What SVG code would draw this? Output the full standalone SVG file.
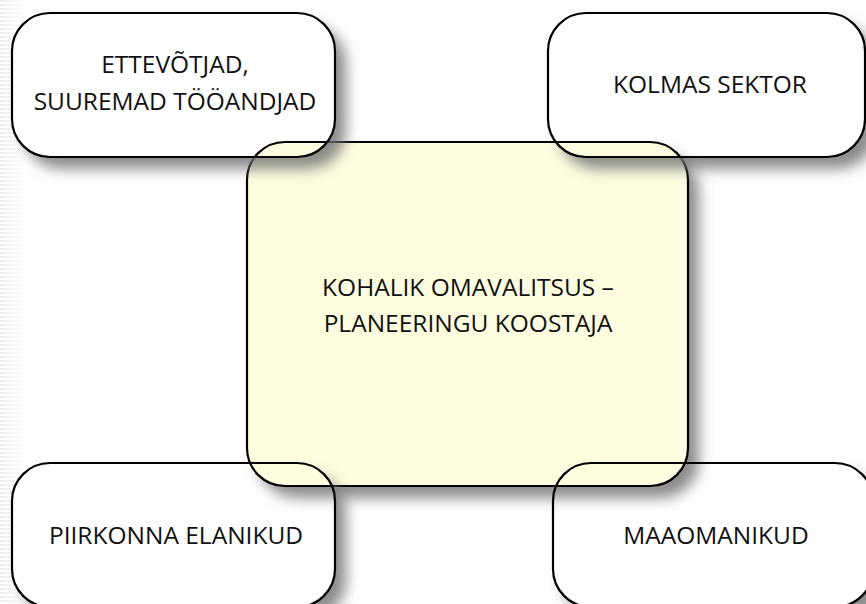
<svg xmlns="http://www.w3.org/2000/svg" width="866" height="604" viewBox="0 0 866 604">
  <defs>
    <style>
      .box { fill: #ffffff; stroke: none; }
      .center { fill: #fefde0; }
      .outline { fill: none; stroke: #000000; stroke-width: 2.2; }
      .label { font-family: "Open Sans", "Noto Sans", "Liberation Sans", sans-serif; font-size: 24.5px; fill: #111111; text-anchor: middle; }
    </style>
    <filter id="shadow" x="-20%" y="-20%" width="150%" height="150%">
      <feGaussianBlur in="SourceAlpha" stdDeviation="7" result="b"/>
      <feOffset in="b" dx="11" dy="12" result="o"/>
      <feFlood flood-color="#6e6e6e" flood-opacity="0.8" result="c"/>
      <feComposite in="c" in2="o" operator="in" result="s"/>
      <feComposite in="s" in2="SourceAlpha" operator="out"/>
    </filter>
    <pattern id="stripes" width="6" height="4" patternUnits="userSpaceOnUse">
      <rect width="6" height="2" fill="#ececec"/>
    </pattern>
    <linearGradient id="fade" x1="0" x2="1" y1="0" y2="0">
      <stop offset="0" stop-color="#fff" stop-opacity="1"/>
      <stop offset="1" stop-color="#fff" stop-opacity="0"/>
    </linearGradient>
    <mask id="fadeMask">
      <rect x="0" y="0" width="26" height="604" fill="url(#fade)"/>
    </mask>
    <rect id="r-tl" x="12" y="13" width="323" height="144" rx="38" ry="38"/>
    <rect id="r-tr" x="548" y="13" width="317" height="144" rx="38" ry="38"/>
    <rect id="r-bl" x="12" y="463" width="323" height="144" rx="38" ry="38"/>
    <rect id="r-br" x="553" y="463" width="320" height="144" rx="38" ry="38"/>
  </defs>

  <rect width="866" height="604" fill="#ffffff"/>
  <rect x="0" y="0" width="26" height="604" fill="url(#stripes)" mask="url(#fadeMask)"/>

  <g id="node-ettevotjad">
    <use href="#r-tl" class="box"/>
    <text class="label" x="175" y="73">ETTEVÕTJAD,</text>
    <text class="label" x="175" y="110">SUUREMAD TÖÖANDJAD</text>
  </g>
  <g id="node-kolmas-sektor">
    <use href="#r-tr" class="box"/>
    <text class="label" x="710" y="93">KOLMAS SEKTOR</text>
  </g>
  <g id="node-piirkonna-elanikud">
    <use href="#r-bl" class="box"/>
    <text class="label" x="176" y="544">PIIRKONNA ELANIKUD</text>
  </g>
  <g id="node-maaomanikud">
    <use href="#r-br" class="box"/>
    <text class="label" x="716" y="544">MAAOMANIKUD</text>
  </g>

  <g id="node-kohalik-omavalitsus">
    <rect x="247" y="142" width="441" height="344" rx="38" ry="38" fill="#ffffff" filter="url(#shadow)"/>
    <rect x="247" y="142" width="441" height="344" rx="38" ry="38" class="center"/>
    <text class="label" x="468" y="296">KOHALIK OMAVALITSUS –</text>
    <text class="label" x="468" y="332">PLANEERINGU KOOSTAJA</text>
    <rect x="247" y="142" width="441" height="344" rx="38" ry="38" class="outline"/>
  </g>

  <g id="connectors">
    <g id="outer-shadows">
      <use href="#r-tl" fill="#fff" filter="url(#shadow)"/>
      <use href="#r-tr" fill="#fff" filter="url(#shadow)"/>
      <use href="#r-bl" fill="#fff" filter="url(#shadow)"/>
      <use href="#r-br" fill="#fff" filter="url(#shadow)"/>
    </g>
    <g id="outer-outlines">
      <use href="#r-tl" class="outline"/>
      <use href="#r-tr" class="outline"/>
      <use href="#r-bl" class="outline"/>
      <use href="#r-br" class="outline"/>
    </g>
  </g>
</svg>
